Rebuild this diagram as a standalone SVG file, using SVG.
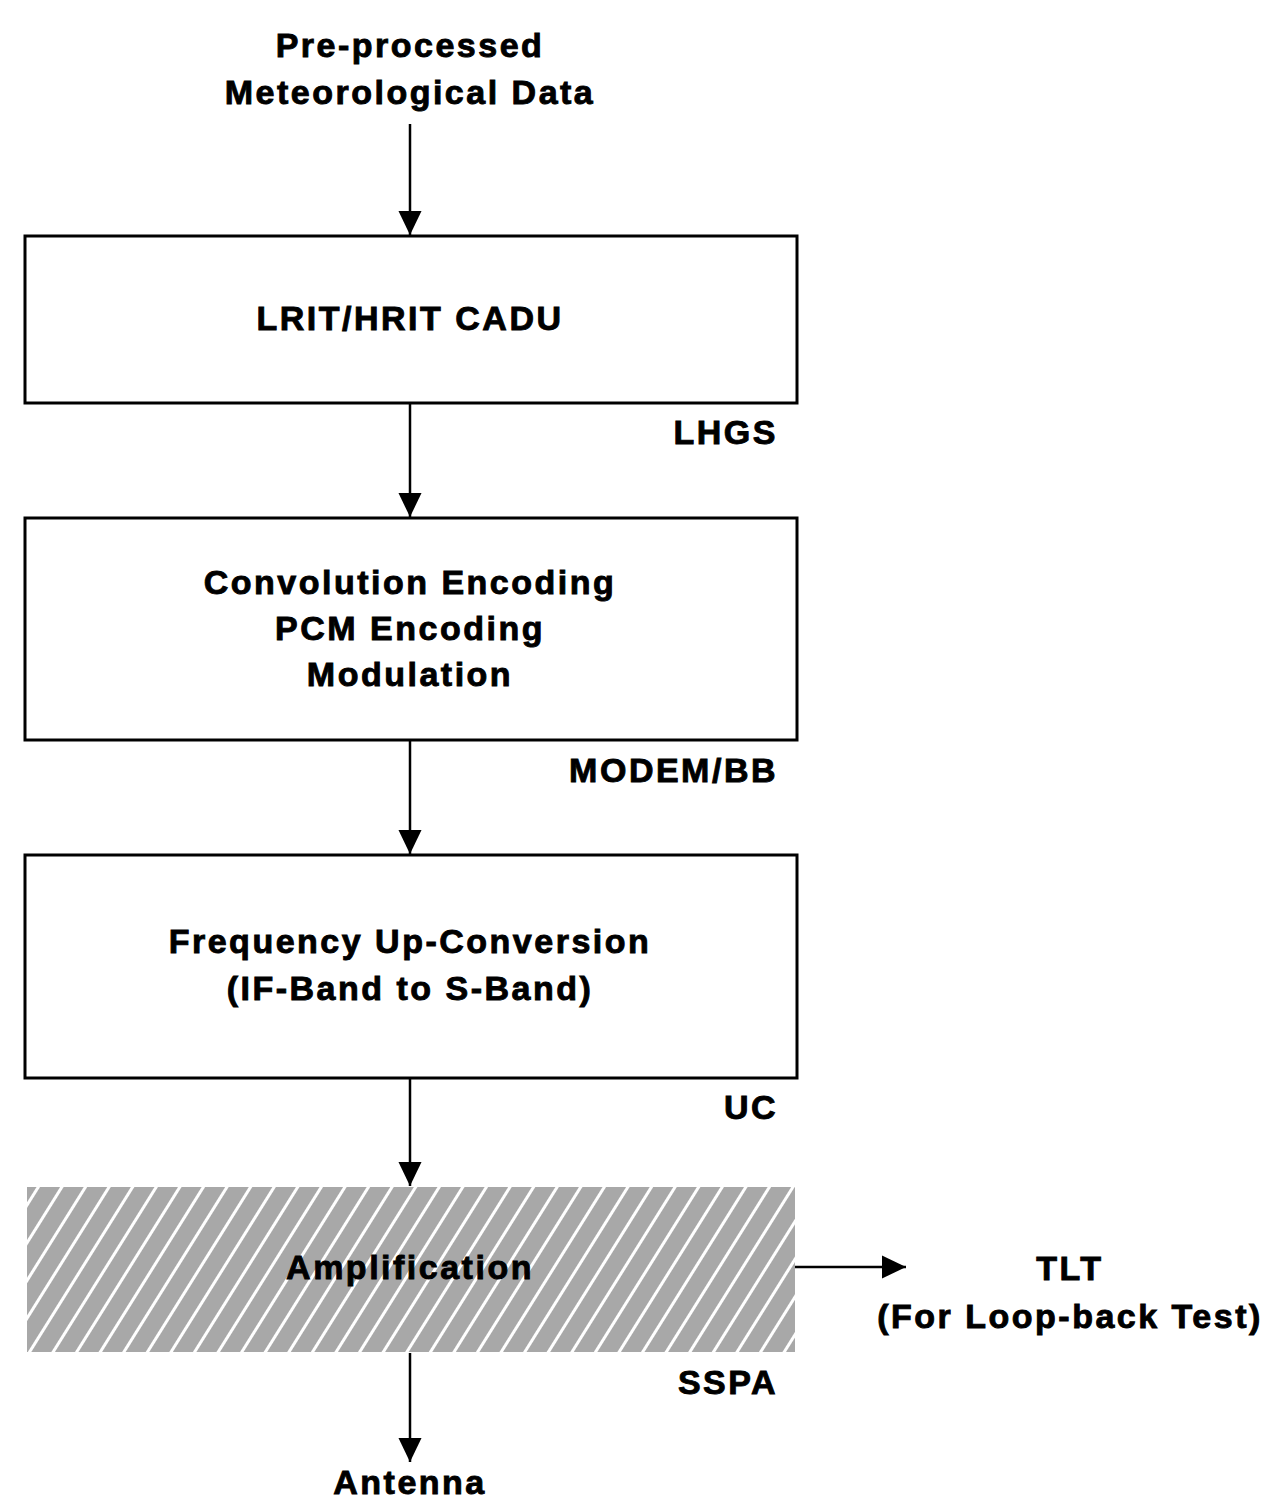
<svg xmlns="http://www.w3.org/2000/svg" width="1284" height="1500" viewBox="0 0 1284 1500">
  <style>
    text { font-family: "Liberation Sans", Arial, sans-serif; font-weight: bold; font-size: 34px; letter-spacing: 2.5px; fill: #000; stroke: #000; stroke-width: 0.9px; }
    .c { text-anchor: middle; }
    .r { text-anchor: end; }
    .box { fill: #fff; stroke: #000; stroke-width: 3; }
    .wire { stroke: #000; stroke-width: 2.5; fill: none; }
  </style>
  <defs>
    <marker id="head" markerWidth="24" markerHeight="26" refX="25" refY="12" viewBox="0 0 25 24" orient="auto" markerUnits="userSpaceOnUse">
      <path d="M0,0 L25,12 L0,24 Z" fill="#000"/>
    </marker>
    <pattern id="hatch" width="20" height="20" patternUnits="userSpaceOnUse" patternTransform="rotate(32)">
      <rect width="20" height="20" fill="#a8a8a8"/>
      <rect x="0" y="0" width="3" height="20" fill="#fff"/>
    </pattern>
  </defs>

  <g id="input">
    <text class="c" x="410" y="57">Pre-processed</text>
    <text class="c" x="410" y="104">Meteorological Data</text>
  </g>

  <g id="lhgs">
    <rect class="box" x="25" y="236" width="772" height="167"/>
    <text class="c" x="410" y="330">LRIT/HRIT CADU</text>
    <text class="r" x="778" y="444">LHGS</text>
  </g>

  <g id="modem">
    <rect class="box" x="25" y="518" width="772" height="222"/>
    <text class="c" x="410" y="594">Convolution Encoding</text>
    <text class="c" x="410" y="640">PCM Encoding</text>
    <text class="c" x="410" y="686">Modulation</text>
    <text class="r" x="778" y="782">MODEM/BB</text>
  </g>

  <g id="uc">
    <rect class="box" x="25" y="855" width="772" height="223"/>
    <text class="c" x="410" y="953">Frequency Up-Conversion</text>
    <text class="c" x="410" y="1000">(IF-Band to S-Band)</text>
    <text class="r" x="778" y="1119">UC</text>
  </g>

  <g id="sspa">
    <rect x="27" y="1187" width="768" height="165" fill="url(#hatch)"/>
    <text class="c" x="410" y="1279">Amplification</text>
    <text class="r" x="778" y="1394">SSPA</text>
  </g>

  <g id="tlt">
    <text class="c" x="1070" y="1280">TLT</text>
    <text class="c" x="1070" y="1328">(For Loop-back Test)</text>
  </g>

  <g id="antenna">
    <text class="c" x="410" y="1494">Antenna</text>
  </g>

  <g id="connectors">
    <line class="wire" x1="410" y1="124" x2="410" y2="235" marker-end="url(#head)"/>
    <line class="wire" x1="410" y1="404" x2="410" y2="517" marker-end="url(#head)"/>
    <line class="wire" x1="410" y1="741" x2="410" y2="854" marker-end="url(#head)"/>
    <line class="wire" x1="410" y1="1079" x2="410" y2="1186" marker-end="url(#head)"/>
    <line class="wire" x1="410" y1="1353" x2="410" y2="1462" marker-end="url(#head)"/>
    <line class="wire" x1="795" y1="1267" x2="906" y2="1267" marker-end="url(#head)"/>
  </g>
</svg>
